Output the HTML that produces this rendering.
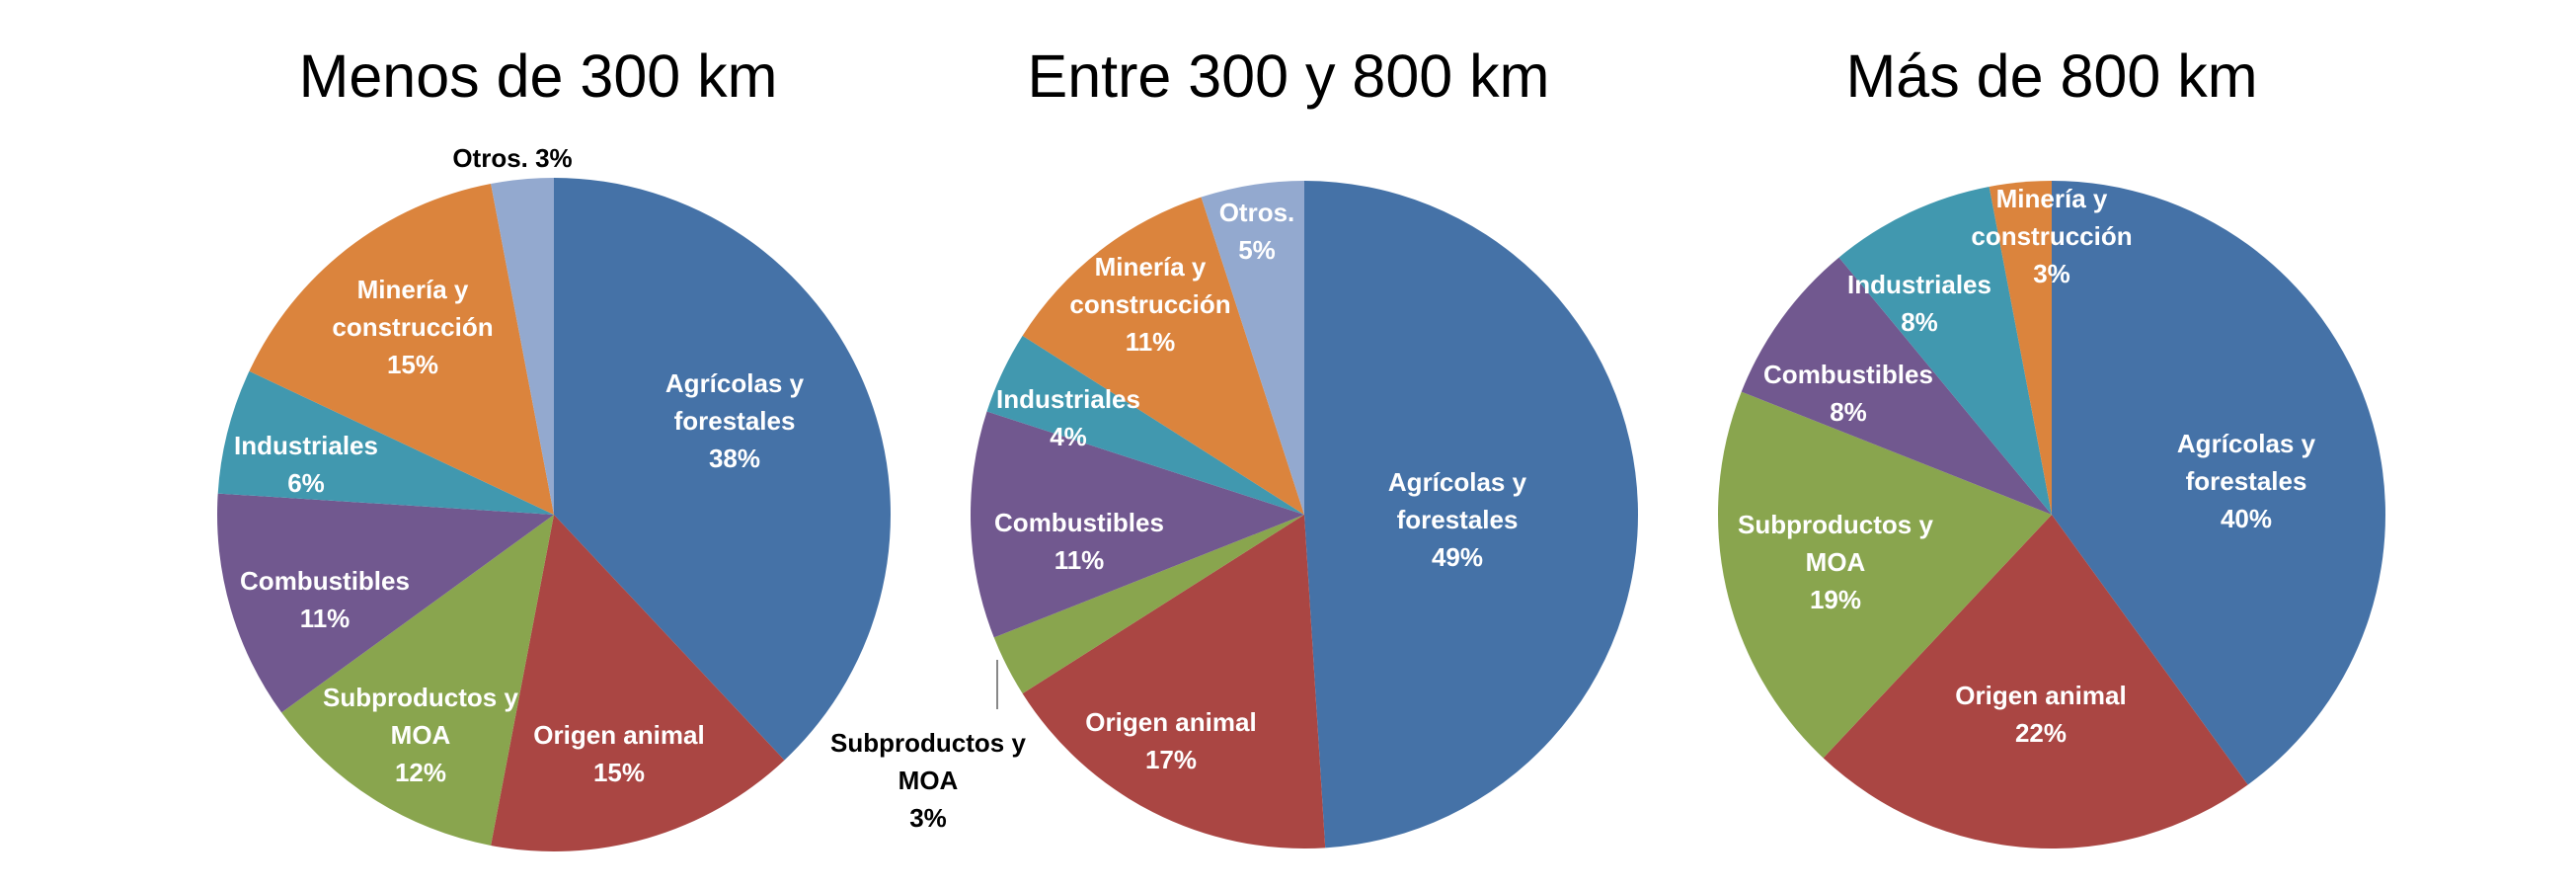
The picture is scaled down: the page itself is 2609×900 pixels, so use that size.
<!DOCTYPE html>
<html><head><meta charset="utf-8"><style>
html,body{margin:0;padding:0;background:#fff;}
svg{display:block;}
text{font-family:"Liberation Sans",sans-serif;}
</style></head><body>
<svg id="chart" width="2609" height="900" viewBox="0 0 2609 900" xmlns="http://www.w3.org/2000/svg"></svg>
<script>
const titles = ["Menos de 300 km","Entre 300 y 800 km","Más de 800 km"];
const categories = ["Agrícolas y forestales","Origen animal","Subproductos y MOA","Combustibles","Industriales","Minería y construcción","Otros"];
const valuesPie1 = [38,15,12,11,6,15,3];
const valuesPie2 = [49,17,3,11,4,11,5];
const valuesPie3 = [40,22,19,8,8,3,0];
const labelsPie1 = [["Agrícolas y","forestales","38%"],["Origen animal","15%"],["Subproductos y","MOA","12%"],["Combustibles","11%"],["Industriales","6%"],["Minería y","construcción","15%"],["Otros. 3%"]];
const labelsPie2 = [["Agrícolas y","forestales","49%"],["Origen animal","17%"],["Subproductos y","MOA","3%"],["Combustibles","11%"],["Industriales","4%"],["Minería y","construcción","11%"],["Otros.","5%"]];
const labelsPie3 = [["Agrícolas y","forestales","40%"],["Origen animal","22%"],["Subproductos y","MOA","19%"],["Combustibles","8%"],["Industriales","8%"],["Minería y","construcción","3%"],[]];

const colors = ["#4572A7","#AA4643","#89A54E","#71588F","#4198AF","#DB843D","#93A9CF"];
const pies = [
  {cx:561, cy:521, r:341, tx:545, vals:valuesPie1, labels:labelsPie1,
   pos:[[744,388],[627,744],[426,706],[329,588],[310,451],[418,293],[519,160]], dark:[6]},
  {cx:1321, cy:521, r:338, tx:1305, vals:valuesPie2, labels:labelsPie2,
   pos:[[1476,488],[1186,731],[940,752],[1093,529],[1082,404],[1165,270],[1273,215]], dark:[2]},
  {cx:2078, cy:521, r:338, tx:2078, vals:valuesPie3, labels:labelsPie3,
   pos:[[2275,449],[2067,704],[1859,531],[1872,379],[1944,288],[2078,201],[0,0]], dark:[]}
];
const svg = document.getElementById('chart');
const NS = "http://www.w3.org/2000/svg";
function angleScale(frac){ return frac*2*Math.PI; }
pies.forEach((p,pi)=>{
  const t = document.createElementNS(NS,'text');
  
  
  t.setAttribute('x',p.tx); t.setAttribute('y',98);
  t.setAttribute('text-anchor','middle'); t.setAttribute('font-size','61');
  t.textContent = titles[pi];
  svg.appendChild(t);
  const total = p.vals.reduce((a,b)=>a+b,0);
  let acc = 0;
  p.vals.forEach((v,i)=>{
    if(v<=0) return;
    const a0 = angleScale(acc/total), a1 = angleScale((acc+v)/total);
    acc += v;
    const x0 = p.cx + p.r*Math.sin(a0), y0 = p.cy - p.r*Math.cos(a0);
    const x1 = p.cx + p.r*Math.sin(a1), y1 = p.cy - p.r*Math.cos(a1);
    const large = (a1-a0) > Math.PI ? 1 : 0;
    const path = document.createElementNS(NS,'path');
    
    
    path.setAttribute('d',`M${p.cx},${p.cy} L${x0},${y0} A${p.r},${p.r} 0 ${large} 1 ${x1},${y1} Z`);
    path.setAttribute('fill',colors[i]);
    svg.appendChild(path);
  });
  p.labels.forEach((lines,i)=>{
    if(!lines.length || p.vals[i]<=0) return;
    const g = document.createElementNS(NS,'text');
    
    
    g.setAttribute('text-anchor','middle');
    g.setAttribute('font-size','26'); g.setAttribute('font-weight','bold');
    g.setAttribute('fill', p.dark.includes(i) ? '#000' : '#fff');
    lines.forEach((ln,k)=>{
      const s = document.createElementNS(NS,'tspan');
      s.setAttribute('x',p.pos[i][0]);
      s.setAttribute('y',p.pos[i][1]+9+k*38);
      s.textContent = ln;
      g.appendChild(s);
    });
    svg.appendChild(g);
  });
});
const ld = document.createElementNS(NS,'line');


ld.setAttribute('x1',1010); ld.setAttribute('y1',668);
ld.setAttribute('x2',1010); ld.setAttribute('y2',718);
ld.setAttribute('stroke','#888'); ld.setAttribute('stroke-width','2');
svg.appendChild(ld);
</script>
</body></html>
